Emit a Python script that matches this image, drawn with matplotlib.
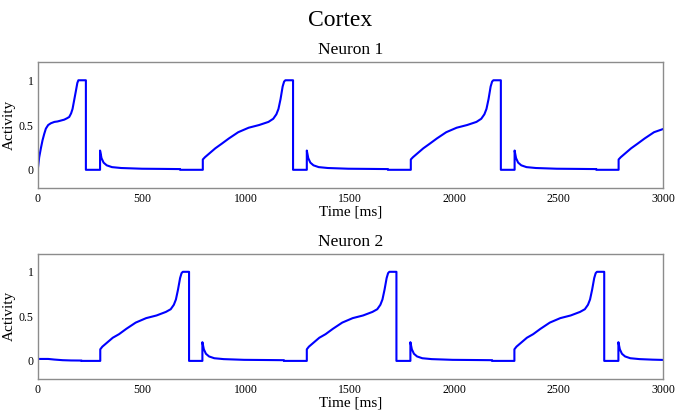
import matplotlib
matplotlib.use("Agg")
import matplotlib.pyplot as plt

plt.rcParams['font.family'] = ['Liberation Serif', 'DejaVu Serif']

# Neuron 1 activity
n1_time = [0, 7, 15, 23, 31, 39, 50, 63, 80, 95, 111, 127, 140, 151, 160, 167, 175, 183, 190, 195,
           231, 231, 299, 299, 306, 316, 331, 356, 400, 500, 600, 683, 683,
           792, 792, 802, 822, 852, 882, 917, 962, 1012, 1062, 1107, 1130, 1145, 1155, 1165, 1175, 1182, 1188,
           1225, 1225, 1291, 1291, 1298, 1308, 1323, 1348, 1392, 1490, 1590, 1680, 1680,
           1790, 1790, 1800, 1820, 1850, 1880, 1915, 1960, 2010, 2060, 2105, 2128, 2143, 2153, 2163, 2173, 2180, 2186,
           2222, 2222, 2288, 2288, 2295, 2305, 2320, 2345, 2390, 2490, 2590, 2680, 2680,
           2787, 2787, 2797, 2817, 2847, 2877, 2912, 2957, 3000]
n1_act = [0, 0.14, 0.24, 0.33, 0.40, 0.46, 0.50, 0.52, 0.535, 0.54, 0.55, 0.56, 0.575, 0.59, 0.63, 0.68, 0.78, 0.88, 0.97, 1.0,
          1.0, 0, 0, 0.215, 0.13, 0.08, 0.05, 0.03, 0.02, 0.012, 0.01, 0.008, 0,
          0, 0.115, 0.14, 0.18, 0.24, 0.29, 0.35, 0.42, 0.47, 0.50, 0.535, 0.57, 0.62, 0.68, 0.79, 0.93, 0.985, 1.0,
          1.0, 0, 0, 0.215, 0.13, 0.08, 0.05, 0.03, 0.02, 0.012, 0.01, 0.008, 0,
          0, 0.115, 0.14, 0.18, 0.24, 0.29, 0.35, 0.42, 0.47, 0.50, 0.535, 0.57, 0.62, 0.68, 0.79, 0.93, 0.985, 1.0,
          1.0, 0, 0, 0.215, 0.13, 0.08, 0.05, 0.03, 0.02, 0.012, 0.01, 0.008, 0,
          0, 0.115, 0.14, 0.18, 0.24, 0.29, 0.35, 0.42, 0.455]

# Neuron 2 activity
n2_time = [0, 50, 80, 120, 160, 210, 210,
           300, 300, 310, 330, 360, 390, 425, 470, 520, 570, 615, 638, 653, 663, 673, 683, 690, 696,
           726, 726, 790, 790, 797, 807, 822, 847, 892, 990, 1090, 1181, 1181,
           1291, 1291, 1301, 1321, 1351, 1381, 1416, 1461, 1511, 1561, 1606, 1629, 1644, 1654, 1664, 1674, 1681, 1687,
           1721, 1721, 1788, 1788, 1795, 1805, 1820, 1845, 1890, 1990, 2090, 2180, 2180,
           2287, 2287, 2297, 2317, 2347, 2377, 2412, 2457, 2507, 2557, 2602, 2625, 2640, 2650, 2660, 2670, 2677, 2683,
           2718, 2718, 2786, 2786, 2793, 2803, 2818, 2843, 2888, 2950, 3000]
n2_act = [0.022, 0.022, 0.015, 0.008, 0.005, 0.004, 0,
          0, 0.13, 0.16, 0.20, 0.26, 0.30, 0.36, 0.43, 0.48, 0.51, 0.55, 0.58, 0.63, 0.69, 0.80, 0.93, 0.985, 1.0,
          1.0, 0, 0, 0.21, 0.13, 0.08, 0.05, 0.03, 0.02, 0.012, 0.01, 0.008, 0,
          0, 0.13, 0.16, 0.20, 0.26, 0.30, 0.36, 0.43, 0.48, 0.51, 0.55, 0.58, 0.63, 0.69, 0.80, 0.93, 0.985, 1.0,
          1.0, 0, 0, 0.21, 0.13, 0.08, 0.05, 0.03, 0.02, 0.012, 0.01, 0.008, 0,
          0, 0.13, 0.16, 0.20, 0.26, 0.30, 0.36, 0.43, 0.48, 0.51, 0.55, 0.58, 0.63, 0.69, 0.80, 0.93, 0.985, 1.0,
          1.0, 0, 0, 0.21, 0.13, 0.08, 0.05, 0.03, 0.02, 0.014, 0.011]

series = [("Neuron 1", n1_time, n1_act), ("Neuron 2", n2_time, n2_act)]
x_ticks = [0, 500, 1000, 1500, 2000, 2500, 3000]
y_ticks = [0, 0.5, 1]
y_tick_labels = ["0", "0.5", "1"]

fig = plt.figure(figsize=(6.8, 4.13), dpi=100)
fig.suptitle("Cortex", fontsize=17, y=0.975, va="top")

boxes = [[0.0555, 0.5455, 0.9195, 0.3035], [0.0555, 0.083, 0.9195, 0.302]]

for box, (name, t, a) in zip(boxes, series):
    ax = fig.add_axes(box)
    ax.plot(t, a, color="#0000ff", lw=1.5)
    ax.set_xlim(0, 3000)
    ax.set_ylim(-0.2, 1.2)
    ax.set_xticks(x_ticks)
    ax.set_xticklabels([str(v) for v in x_ticks])
    ax.set_yticks(y_ticks)
    ax.set_yticklabels(y_tick_labels)
    ax.tick_params(length=0, labelsize=8.5, pad=4)
    ax.tick_params(axis="y", pad=3)
    for s in ax.spines.values():
        s.set_color("#8c8c8c")
        s.set_linewidth(1.0)
    ax.set_title(name, fontsize=12.5, pad=6)
    ax.set_xlabel("Time [ms]", fontsize=11, labelpad=0)
    ax.set_ylabel("Activity", fontsize=11)
    ax.yaxis.set_label_coords(-0.035, 0.5)

fig.savefig("out.png", dpi=100)
